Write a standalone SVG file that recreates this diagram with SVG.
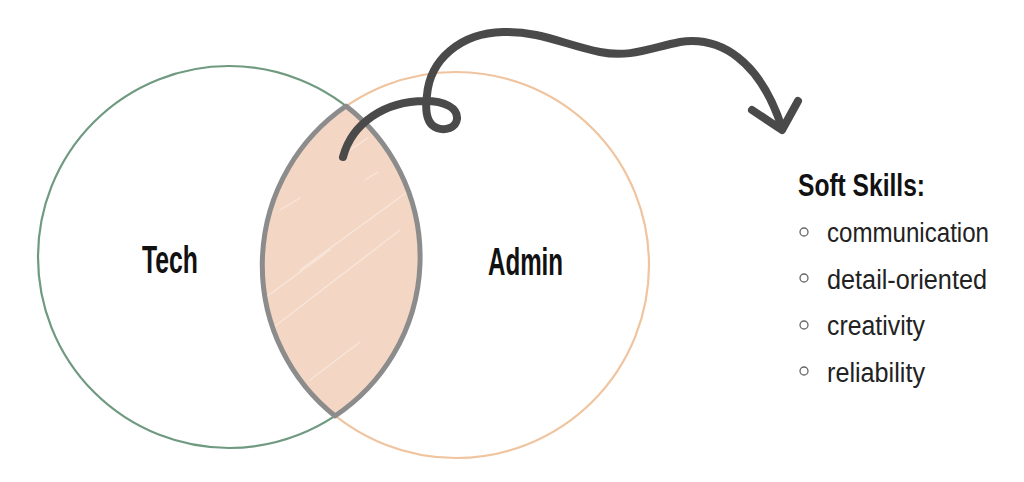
<svg xmlns="http://www.w3.org/2000/svg" width="1024" height="482" viewBox="0 0 1024 482">
<style>
.circ{fill:none;stroke-width:2.2;stroke-linejoin:round}
.lbl{font-family:"Liberation Sans",Arial,sans-serif;font-weight:bold;fill:#111;font-size:38px}
.head{font-family:"Liberation Sans",Arial,sans-serif;font-weight:bold;fill:#111;font-size:31px}
.item{font-family:"Liberation Sans",Arial,sans-serif;fill:#222;font-size:27px}
.bul{fill:none;stroke:#666;stroke-width:1.3}
.hatch{stroke:#ffffff;stroke-width:1.4;opacity:0.4;stroke-linecap:round}
.conn{fill:none;stroke:#4a4a4a;stroke-width:8;stroke-linecap:round;stroke-linejoin:round}
</style>
<defs>
<clipPath id="lensClip">
<path d="M 346 106 A 193 193 0 0 0 335 416 A 191 191 0 0 0 346 106 Z"/>
</clipPath>
</defs>
<rect width="1024" height="482" fill="#ffffff"/>
<g id="tech">
<circle class="circ" cx="229" cy="257" r="191" stroke="#6f9a80"/>
<text class="lbl" x="142" y="273" textLength="56" lengthAdjust="spacingAndGlyphs">Tech</text>
</g>
<g id="admin">
<circle class="circ" cx="456" cy="265" r="193" stroke="#f0c49e"/>
<text class="lbl" x="488" y="275" textLength="75" lengthAdjust="spacingAndGlyphs">Admin</text>
</g>
<g id="overlap">
<path d="M 346 106 A 193 193 0 0 0 335 416 A 191 191 0 0 0 346 106 Z" fill="#f3d6c3"/>
<g clip-path="url(#lensClip)">
<line class="hatch" x1="262" y1="300" x2="330" y2="250"/>
<line class="hatch" x1="270" y1="330" x2="400" y2="230"/>
<line class="hatch" x1="310" y1="380" x2="360" y2="342"/>
<line class="hatch" x1="350" y1="150" x2="368" y2="138"/>
<line class="hatch" x1="365" y1="180" x2="378" y2="172"/>
<line class="hatch" x1="280" y1="210" x2="300" y2="198"/>
<line class="hatch" x1="300" y1="270" x2="410" y2="190"/>
</g>
<path d="M 346 106 A 193 193 0 0 0 335 416 A 191 191 0 0 0 346 106 Z" fill="none" stroke="#8c8c8c" stroke-width="5" stroke-linejoin="round"/>
</g>
<g id="softskills">
<text class="head" x="798" y="196" textLength="127" lengthAdjust="spacingAndGlyphs">Soft Skills:</text>
<circle class="bul" cx="804" cy="232" r="4"/>
<text class="item" x="827" y="242" textLength="162" lengthAdjust="spacingAndGlyphs">communication</text>
<circle class="bul" cx="804" cy="278" r="4"/>
<text class="item" x="827" y="289" textLength="160" lengthAdjust="spacingAndGlyphs">detail-oriented</text>
<circle class="bul" cx="804" cy="325" r="4"/>
<text class="item" x="827" y="335" textLength="98" lengthAdjust="spacingAndGlyphs">creativity</text>
<circle class="bul" cx="804" cy="371" r="4"/>
<text class="item" x="827" y="382" textLength="98" lengthAdjust="spacingAndGlyphs">reliability</text>
</g>
<g id="connectors">
<path class="conn" d="M 343 157 C 352 123, 385 101, 425 101 C 445 101, 458 108, 457 119 C 456 128, 445 131, 437 128 C 426 124, 425 110, 427 95 C 430 60, 460 33, 503 32 C 540 31, 565 45, 600 52 C 630 58, 650 48, 680 42 C 720 36, 760 60, 782 128"/>
<path class="conn" d="M 752 110 L 782 130 L 798 101"/>
</g>
</svg>
